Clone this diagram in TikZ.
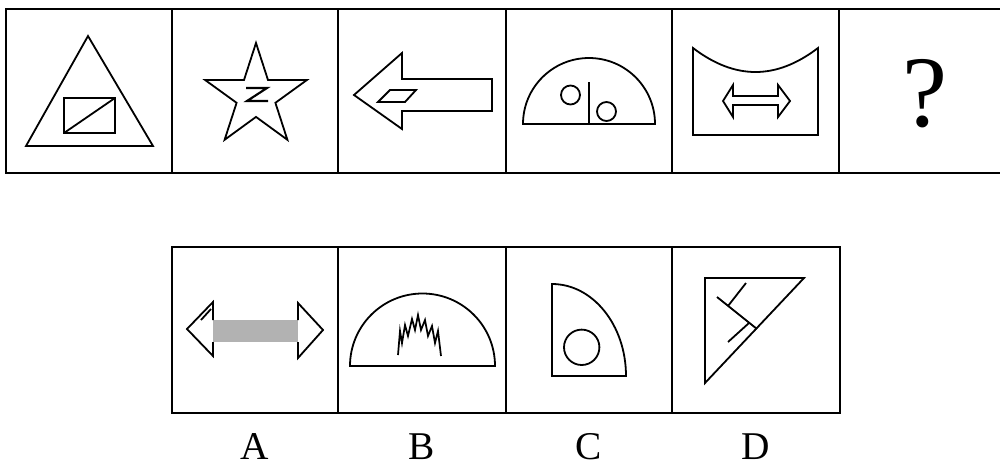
\documentclass[tikz,border=0pt]{standalone}
\usepackage{fontspec}
\setmainfont{Liberation Serif}
\tikzset{
  panel/.style={line width=1.8pt, black},
  fig/.style={line width=1.35pt, black, line join=miter},
  optlabel/.style={anchor=base, inner sep=0pt, font=\fontsize{29.5}{31}\selectfont}
}
\begin{document}
\begin{tikzpicture}[x=0.75pt,y=0.75pt,yscale=-1,xscale=1]
\useasboundingbox (0,0) rectangle (1000,465);

% Top row of panels
\draw [panel] (1000,9) -- (6,9) -- (6,173) -- (1000,173) ;
\foreach \xx in {172,338,506,672,839}
  \draw [panel] (\xx,9) -- (\xx,173) ;

% Bottom row of panels
\draw [panel] (172,247) rectangle (840,413) ;
\foreach \xx in {338,506,672}
  \draw [panel] (\xx,247) -- (\xx,413) ;

%Panel 1: triangle with split rectangle
\draw [fig] (88,36) -- (153,146) -- (26,146) -- cycle ;
\draw [fig] (64,98) rectangle (115,133) ;
\draw [fig] (64,133) -- (115,98) ;

%Panel 2: star with Z
\draw [fig] (256,43) -- (268,80) -- (306.9,80) -- (275.4,102.8) -- (287.4,139.8) -- (256,116.9) -- (224.6,139.8) -- (236.6,102.8) -- (205.1,80) -- (244,80) -- cycle ;
\draw [fig, line width=1.6pt] (246,88) -- (267,88) -- (247,101) -- (268,101) ;

%Panel 3: left arrow with parallelogram
\draw [fig] (354,95) -- (402,53) -- (402,79) -- (492,79) -- (492,111) -- (402,111) -- (402,129) -- cycle ;
\draw [fig] (378,102) -- (390,90) -- (416,90) -- (405,102) -- cycle ;

%Panel 4: half disc with two circles
\draw [fig] (523,124) arc [start angle=180, end angle=360, radius=66] -- cycle ;
\draw [fig] (589,82) -- (589,124) ;
\draw [fig] (570.5,95) circle [radius=9.5] ;
\draw [fig] (606.5,111.5) circle [radius=9.5] ;

%Panel 5: curved top box with double arrow
\draw [fig] (693,48) .. controls (735,80) and (776,80) .. (818,48) -- (818,135) -- (693,135) -- cycle ;
\draw [fig] (723,101) -- (733,85) -- (733,96) -- (778,96) -- (778,85) -- (790,101) -- (778,117) -- (778,105) -- (733,105) -- (733,117) -- cycle ;

% Text Node
\node (qmark) [anchor=base, inner sep=0pt, font=\fontsize{76}{80}\selectfont] at (925,126) {?};

%Option A: double arrow with grey shaft
\fill [gray!60] (213,320) rectangle (298,342) ;
\draw [fig] (213,320) -- (213,302) -- (187,329) -- (213,356) -- (213,342) ;
\draw [fig] (211,309) -- (201,320) ;
\draw [fig] (298,320) -- (298,303) -- (323,330) -- (298,358) -- (298,342) ;

%Option B: half disc with jagged peak
\draw [fig] (350,366) arc [start angle=180, end angle=360, radius=72.5] -- cycle ;
\draw [fig, line width=1.3pt] (398,355) -- (400,331) -- (402,343) -- (405,325) -- (408,336) -- (412,319) -- (415,330) -- (418,315) -- (421,330) -- (425,320) -- (428,336) -- (432,326) -- (435,343) -- (438,331) -- (441,356) ;

%Option C: quarter sector with circle
\draw [fig] (552,376) -- (552,284) arc [start angle=90, end angle=0, x radius=74, y radius=-92] -- cycle ;
\draw [fig] (581.7,347.3) circle [radius=17.7] ;

%Option D: right triangle with inner strokes
\draw [fig] (705,278) -- (804,278) -- (705,383) -- cycle ;
\draw [fig] (717,297) -- (757,329) ;
\draw [fig] (728,306) -- (746,283) ;
\draw [fig] (728,342) -- (749,323) ;

% Text Node
\node (labA) [optlabel] at (255,459) {A};
\node (labB) [optlabel] at (422,459) {B};
\node (labC) [optlabel] at (589,459) {C};
\node (labD) [optlabel] at (756,459) {D};

\end{tikzpicture}
\end{document}
